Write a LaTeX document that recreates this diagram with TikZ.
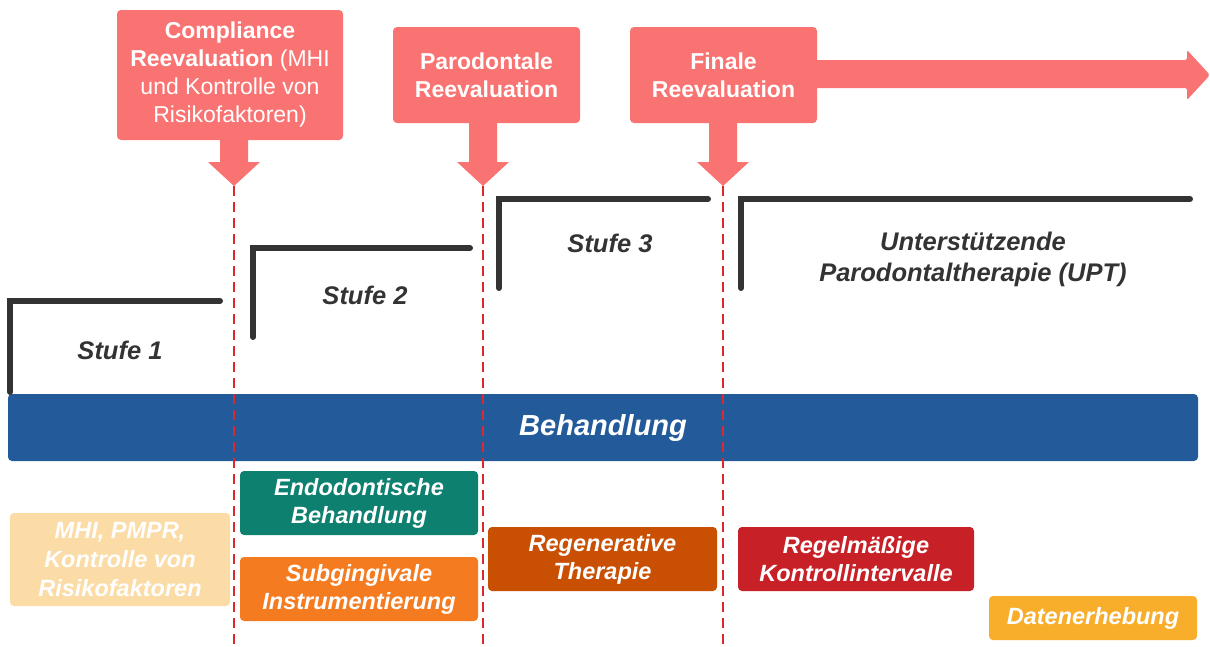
\documentclass[tikz,border=0pt]{standalone}
\usepackage{fontspec}
\setmainfont{Liberation Sans}
\definecolor{salmon}{HTML}{FA7373}
\definecolor{barblue}{HTML}{235A99}
\definecolor{dashred}{HTML}{D92A2E}
\definecolor{stepgray}{HTML}{333333}
\definecolor{peach}{HTML}{FCDCA6}
\definecolor{teal}{HTML}{0D8070}
\definecolor{orangeA}{HTML}{F47B20}
\definecolor{rust}{HTML}{C94F02}
\definecolor{redbox}{HTML}{C72027}
\definecolor{amber}{HTML}{F8AE2B}
\tikzset{
  evalbox/.style={fill=salmon, rounded corners=4pt, inner sep=0pt, align=center, text=white,
    font=\fontsize{23}{28}\selectfont},
  evalarrow/.style={fill=salmon},
  stepline/.style={draw=stepgray, line width=6pt, line cap=round, line join=miter},
  steplabel/.style={text=stepgray, font=\fontsize{25.5}{31}\selectfont\bfseries\itshape, align=center},
  taskbox/.style={rounded corners=4pt, inner sep=0pt, align=center, text=white,
    font=\fontsize{23.5}{28}\selectfont\bfseries\itshape},
  marker/.style={draw=dashred, line width=1.5pt, dash pattern=on 10pt off 6pt}
}
\begin{document}
\begin{tikzpicture}[x=1pt,y=-1pt]
\useasboundingbox (0,0) rectangle (1210,646);
% Behandlung bar
\node[fill=barblue, rounded corners=4pt, minimum width=1190pt, minimum height=67pt, inner sep=0pt,
  text=white, font=\fontsize{29}{34}\selectfont\bfseries\itshape] (bar) at (603,427.5) {Behandlung};
% evaluation boxes with arrows
\fill[evalarrow] (220,130) -- (248,130) -- (248,162) -- (260,162) -- (234,186) -- (208,162) -- (220,162) -- cycle;
\fill[evalarrow] (469,110) -- (497,110) -- (497,162) -- (509,162) -- (483,186) -- (457,162) -- (469,162) -- cycle;
\fill[evalarrow] (709,110) -- (737,110) -- (737,162) -- (749,162) -- (723,186) -- (697,162) -- (709,162) -- cycle;
\fill[evalarrow, rounded corners=2pt] (800,60) -- (1187,60) -- (1187,50) -- (1210,75) -- (1187,100) -- (1187,88) -- (800,88) -- cycle;
\node[evalbox, minimum width=226pt, minimum height=130pt] (comp) at (230,75)
  {\textbf{Compliance}\\\textbf{Reevaluation} (MHI\\und Kontrolle von\\Risikofaktoren)};
\node[evalbox, minimum width=187pt, minimum height=96pt, font=\fontsize{23}{28}\selectfont\bfseries] (paro) at (486.5,75)
  {Parodontale\\Reevaluation};
\node[evalbox, minimum width=187pt, minimum height=96pt, font=\fontsize{23}{28}\selectfont\bfseries] (fin) at (723.5,75)
  {Finale\\Reevaluation};
% dashed markers
\coordinate (m1t) at (234,186); \coordinate (m1b) at (234,646);
\coordinate (m2t) at (483,186); \coordinate (m2b) at (483,646);
\coordinate (m3t) at (723,186); \coordinate (m3b) at (723,646);
\draw[marker] (m1t) -- (m1b);
\draw[marker] (m2t) -- (m2b);
\draw[marker] (m3t) -- (m3b);
% steps
\draw[stepline] (10,392) -- (10,301) -- (220,301);
\draw[stepline] (253,337) -- (253,248) -- (470,248);
\draw[stepline] (499,288) -- (499,199) -- (708,199);
\draw[stepline] (741,288) -- (741,199) -- (1190,199);
\node[steplabel] (s1) at (120,350) {Stufe 1};
\node[steplabel] (s2) at (365,295) {Stufe 2};
\node[steplabel] (s3) at (610,243) {Stufe 3};
\node[steplabel] (s4) at (973,259) {Unterstützende\\Parodontaltherapie (UPT)};
% task boxes
\node[taskbox, fill=peach, minimum width=220pt, minimum height=93pt, font=\fontsize{23.5}{29}\selectfont\bfseries\itshape] (mhi) at (120,559.5)
  {MHI, PMPR,\\Kontrolle von\\Risikofaktoren};
\node[taskbox, fill=teal, minimum width=238pt, minimum height=64pt] (endo) at (359,503)
  {Endodontische\\Behandlung};
\node[taskbox, fill=orangeA, minimum width=238pt, minimum height=64pt] (sub) at (359,589)
  {Subgingivale\\Instrumentierung};
\node[taskbox, fill=rust, minimum width=229pt, minimum height=64pt] (regen) at (602.5,559)
  {Regenerative\\Therapie};
\node[taskbox, fill=redbox, minimum width=236pt, minimum height=64pt] (regel) at (856,559)
  {Regelmäßige\\Kontrollintervalle};
\node[taskbox, fill=amber, minimum width=208pt, minimum height=44pt] (daten) at (1093,618)
  {Datenerhebung};
\end{tikzpicture}
\end{document}
